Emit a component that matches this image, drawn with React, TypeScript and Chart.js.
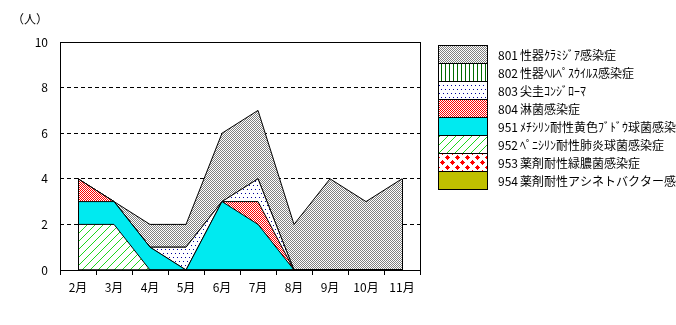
import { useEffect, useRef } from 'react';
import { Chart, registerables } from 'chart.js';

Chart.register(...registerables);

const months = ['2月', '3月', '4月', '5月', '6月', '7月', '8月', '9月', '10月', '11月'];
const s954 = [0, 0, 0, 0, 0, 0, 0, 0, 0, 0];
const s953 = [0, 0, 0, 0, 0, 0, 0, 0, 0, 0];
const s952 = [2, 2, 0, 0, 0, 0, 0, 0, 0, 0];
const s951 = [1, 1, 1, 0, 3, 2, 0, 0, 0, 0];
const s804 = [1, 0, 0, 0, 0, 1, 0, 0, 0, 0];
const s803 = [0, 0, 0, 1, 0, 1, 0, 0, 0, 0];
const s802 = [0, 0, 0, 0, 0, 0, 0, 0, 0, 0];
const s801 = [0, 0, 1, 1, 3, 3, 2, 4, 3, 4];

const yTicks = [0, 2, 4, 6, 8, 10];
const unitLabel = '（人）';

const labels954 = '954 薬剤耐性アシネトバクター感染症';
const labels953 = '953 薬剤耐性緑膿菌感染症';
const labels952 = '952 ﾍﾟﾆｼﾘﾝ耐性肺炎球菌感染症';
const labels951 = '951 ﾒﾁｼﾘﾝ耐性黄色ﾌﾞﾄﾞｳ球菌感染症';
const labels804 = '804 淋菌感染症';
const labels803 = '803 尖圭ｺﾝｼﾞﾛｰﾏ';
const labels802 = '802 性器ﾍﾙﾍﾟｽｳｲﾙｽ感染症';
const labels801 = '801 性器ｸﾗﾐｼﾞｱ感染症';

const FONT = '"Noto Sans CJK JP", "Noto Sans", sans-serif';

function makePattern(w: number, h: number, draw: (g: CanvasRenderingContext2D) => void) {
  const c = document.createElement('canvas');
  c.width = w;
  c.height = h;
  const g = c.getContext('2d')!;
  g.fillStyle = '#ffffff';
  g.fillRect(0, 0, w, h);
  draw(g);
  return g.createPattern(c, 'repeat')!;
}

function px(g: CanvasRenderingContext2D, color: string, pts: number[][]) {
  g.fillStyle = color;
  pts.forEach(([x, y]) => g.fillRect(x, y, 1, 1));
}

export default function App() {
  const ref = useRef<HTMLCanvasElement | null>(null);

  useEffect(() => {
    if (!ref.current) return;

    const pGray = makePattern(2, 2, (g) => px(g, '#808080', [[0, 0], [1, 1]]));
    const pVert = makePattern(4, 1, (g) => px(g, '#006a00', [[1, 0]]));
    const pDots = makePattern(4, 8, (g) => px(g, '#000099', [[1, 1], [3, 5]]));
    const pRed = makePattern(2, 2, (g) => px(g, '#ff0000', [[0, 0], [1, 1]]));
    const pDiag = makePattern(8, 8, (g) => {
      const pts: number[][] = [];
      for (let i = 0; i < 8; i++) pts.push([7 - i, i]);
      px(g, '#1ed61e', pts);
    });
    const pCross = makePattern(10, 10, (g) => {
      const pl = (cx: number, cy: number) => {
        const out: number[][] = [];
        for (let dx = -1; dx <= 1; dx++) for (let dy = -1; dy <= 1; dy++) out.push([cx + dx, cy + dy]);
        out.push([cx - 2, cy], [cx + 2, cy], [cx, cy - 2], [cx, cy + 2]);
        return out.map(([x, y]) => [(x + 10) % 10, (y + 10) % 10]);
      };
      px(g, '#ff0000', [...pl(2, 2), ...pl(7, 7)]);
    });

    const ds = (label: string, data: number[], bg: any, idx: number) => ({
      label,
      data,
      backgroundColor: bg,
      borderColor: '#000000',
      borderWidth: 1,
      fill: idx === 0 ? 'origin' : '-1',
      pointRadius: 0,
      pointHoverRadius: 0,
      tension: 0,
    });

    const datasets = [
      ds(labels954, s954, '#c0c000', 0),
      ds(labels953, s953, pCross, 1),
      ds(labels952, s952, pDiag, 2),
      ds(labels951, s951, '#00eaf0', 3),
      ds(labels804, s804, pRed, 4),
      ds(labels803, s803, pDots, 5),
      ds(labels802, s802, pVert, 6),
      ds(labels801, s801, pGray, 7),
    ];

    const extras = {
      id: 'extras',
      afterDatasetsDraw(chart: any) {
        const ctx = chart.ctx;
        const xs = chart.scales.x;
        const ys = chart.scales.y;
        const n = months.length;
        const total = (i: number) => chart.data.datasets.reduce((a: number, d: any) => a + d.data[i], 0);
        ctx.save();
        ctx.strokeStyle = '#000';
        ctx.lineWidth = 1;
        [0, n - 1].forEach((i) => {
          const x = Math.round(xs.getPixelForValue(i)) + 0.5;
          ctx.beginPath();
          ctx.moveTo(x, ys.getPixelForValue(0));
          ctx.lineTo(x, ys.getPixelForValue(total(i)));
          ctx.stroke();
        });
        const a = chart.chartArea;
        ctx.strokeRect(Math.round(a.left) + 0.5, Math.round(a.top) + 0.5, Math.round(a.right - a.left), Math.round(a.bottom - a.top));
        ctx.restore();
      },
      afterDraw(chart: any) {
        const ctx = chart.ctx;
        ctx.save();
        ctx.fillStyle = '#000';
        ctx.font = `12px ${FONT}`;
        ctx.textBaseline = 'middle';
        ctx.textAlign = 'left';
        ctx.fillText(unitLabel, 12, 19);
        const x0 = 438, y0 = 45, w = 49, rh = 18;
        const list = [...chart.data.datasets].reverse();
        list.forEach((d: any, i: number) => {
          ctx.fillStyle = d.backgroundColor;
          ctx.fillRect(x0, y0 + i * rh, w, rh);
        });
        ctx.strokeStyle = '#000';
        ctx.lineWidth = 1;
        list.forEach((d: any, i: number) => {
          ctx.strokeRect(x0 + 0.5, y0 + i * rh + 0.5, w, rh);
          ctx.fillStyle = '#000';
          const sp = d.label.indexOf(' ');
          const code = d.label.slice(0, sp);
          const name = d.label.slice(sp + 1);
          const ty = y0 + i * rh + rh / 2 + 1;
          ctx.fillText(code, 498, ty);
          ctx.fillText(name, 520, ty);
        });
        ctx.restore();
      },
    };

    const chart = new Chart(ref.current, {
      type: 'line',
      data: { labels: months, datasets: datasets as any },
      options: {
        animation: false,
        responsive: false,
        devicePixelRatio: 1,
        layout: { padding: { left: 0, right: 256, top: 42, bottom: 0 } },
        plugins: { legend: { display: false }, tooltip: { enabled: false } },
        scales: {
          x: {
            offset: true,
            grid: {
              offset: true,
              drawOnChartArea: false,
              drawTicks: true,
              tickLength: 5,
              tickColor: '#000',
              color: '#000',
            },
            border: { display: false },
            ticks: {
              color: '#000',
              font: { family: FONT, size: 12 },
              padding: 5,
              maxRotation: 0,
              autoSkip: false,
            },
            afterFit: (s: any) => {
              s.height = 55;
            },
          },
          y: {
            stacked: true,
            min: 0,
            max: 10,
            afterBuildTicks: (s: any) => {
              s.ticks = yTicks.map((v) => ({ value: v }));
            },
            grid: {
              drawTicks: false,
              color: (c: any) => (c.tick && (c.tick.value === 0 || c.tick.value === 10) ? 'rgba(0,0,0,0)' : '#000'),
              lineWidth: 1,
            },
            border: { display: false, dash: [4, 3] },
            ticks: {
              color: '#000',
              font: { family: FONT, size: 12 },
              padding: 12,
            },
            afterFit: (s: any) => {
              s.width = 60;
            },
          },
        },
      },
      plugins: [extras],
    });

    return () => chart.destroy();
  }, []);

  return (
    <div style={{ position: 'absolute', left: 0, top: 0, width: 676, height: 325, background: '#fff' }}>
      <canvas ref={ref} width={676} height={325} style={{ width: 676, height: 325, display: 'block' }} />
    </div>
  );
}
